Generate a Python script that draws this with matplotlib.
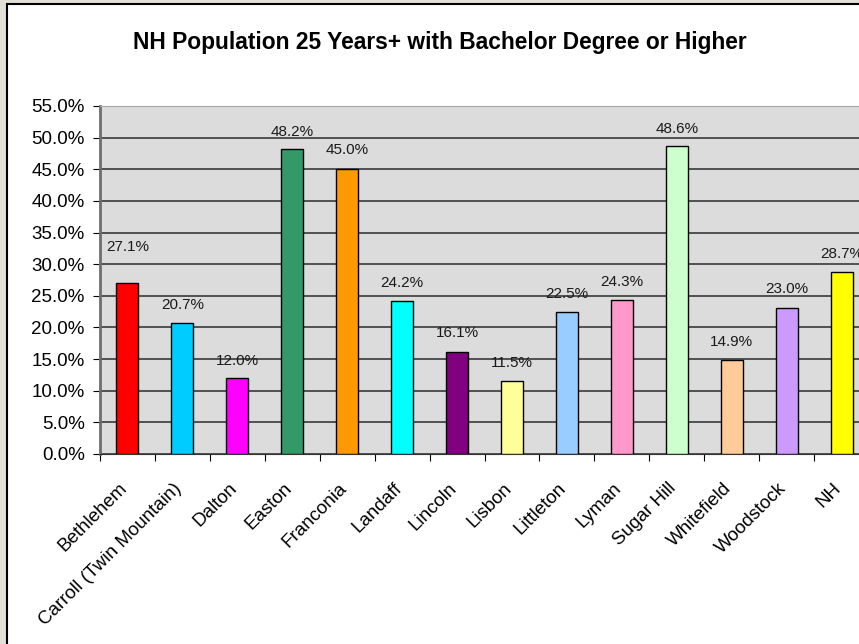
import numpy as np
import matplotlib.pyplot as plt
from matplotlib.patches import Rectangle
from matplotlib.ticker import MultipleLocator, FuncFormatter

# towns and share of population 25+ with a bachelor degree or higher (%)
TOWNS = ['Bethlehem', 'Carroll (Twin Mountain)', 'Dalton', 'Easton', 'Franconia',
         'Landaff', 'Lincoln', 'Lisbon', 'Littleton', 'Lyman', 'Sugar Hill',
         'Whitefield', 'Woodstock', 'NH']
PCT = [27.1, 20.7, 12.0, 48.2, 45.0, 24.2, 16.1, 11.5, 22.5, 24.3, 48.6, 14.9, 23.0, 28.7]

# one excel-style colour per bar
COLORS = ['#FF0000', '#00CCFF', '#FF00FF', '#339966', '#FF9900', '#00FFFF', '#800080',
          '#FFFF99', '#99CCFF', '#FF99CC', '#CCFFCC', '#FFCC99', '#CC99FF', '#FFFF00']
# label lift above each bar in pixels (Bethlehem was dragged up)
LABEL_LIFT = [36, 18, 17, 17, 19, 18, 19, 18, 18, 18, 17, 18, 19, 18]

W, H = 859, 644
fig = plt.figure(figsize=(W / 100, H / 100), dpi=100)
fig.patch.set_facecolor('#E2DFD7')
plt.rcParams['font.family'] = ['Liberation Sans', 'DejaVu Sans']

# white chart area, cropped on right and bottom
fig.patches.append(Rectangle((7 / W, -0.1), 1.2, (H - 4) / H + 0.1, transform=fig.transFigure,
                             facecolor='white', edgecolor='black', lw=1.5, zorder=-10))

ax = fig.add_axes([100 / W, (H - 454) / H, 769 / W, (454 - 106) / H])
ax.set_facecolor('#DCDCDC')

x = np.arange(len(TOWNS))
ax.bar(x, PCT, width=0.4, color=COLORS, edgecolor='black', lw=1, zorder=3)

for xi, v, lift in zip(x, PCT, LABEL_LIFT):
    ax.annotate(f'{v:.1f}%', (xi, v), xytext=(0, lift), textcoords='offset pixels',
                ha='center', va='center', fontsize=11, color='#1a1a1a', zorder=4)

# category names, rotated, ending just under each bar
for xi, name in zip(x, TOWNS):
    ax.annotate(name, (xi, 0), xytext=(-3, -32), textcoords='offset pixels',
                rotation=45, rotation_mode='anchor', ha='right', va='center',
                fontsize=13.5, annotation_clip=False)

ax.set_xlim(-0.5, len(TOWNS) - 0.5)
ax.set_ylim(0, 55)
ax.yaxis.set_major_locator(MultipleLocator(5))
ax.yaxis.set_major_formatter(FuncFormatter(lambda v, p: f'{v:.1f}%'))
ax.grid(axis='y', color='#2b2b2b', lw=1.1, zorder=1)
ax.set_axisbelow(True)

# x ticks sit between categories
ax.set_xticks(np.arange(len(TOWNS) + 1) - 0.5)
ax.set_xticklabels([])
ax.tick_params(axis='x', length=5, color='black', direction='out')
ax.tick_params(axis='y', length=5, labelsize=13.5, color='black', pad=6)

for s in ['top', 'right']:
    ax.spines[s].set_color('#A8A8A8')
ax.spines['left'].set_color('#6E6E6E')
ax.spines['left'].set_linewidth(2)
ax.spines['bottom'].set_color('#333333')

fig.text(440 / W, 1 - 42 / H, 'NH Population 25 Years+ with Bachelor Degree or Higher',
         ha='center', va='center', fontsize=16.4, fontweight='bold')

fig.savefig('out.png', dpi=100, facecolor=fig.get_facecolor())
